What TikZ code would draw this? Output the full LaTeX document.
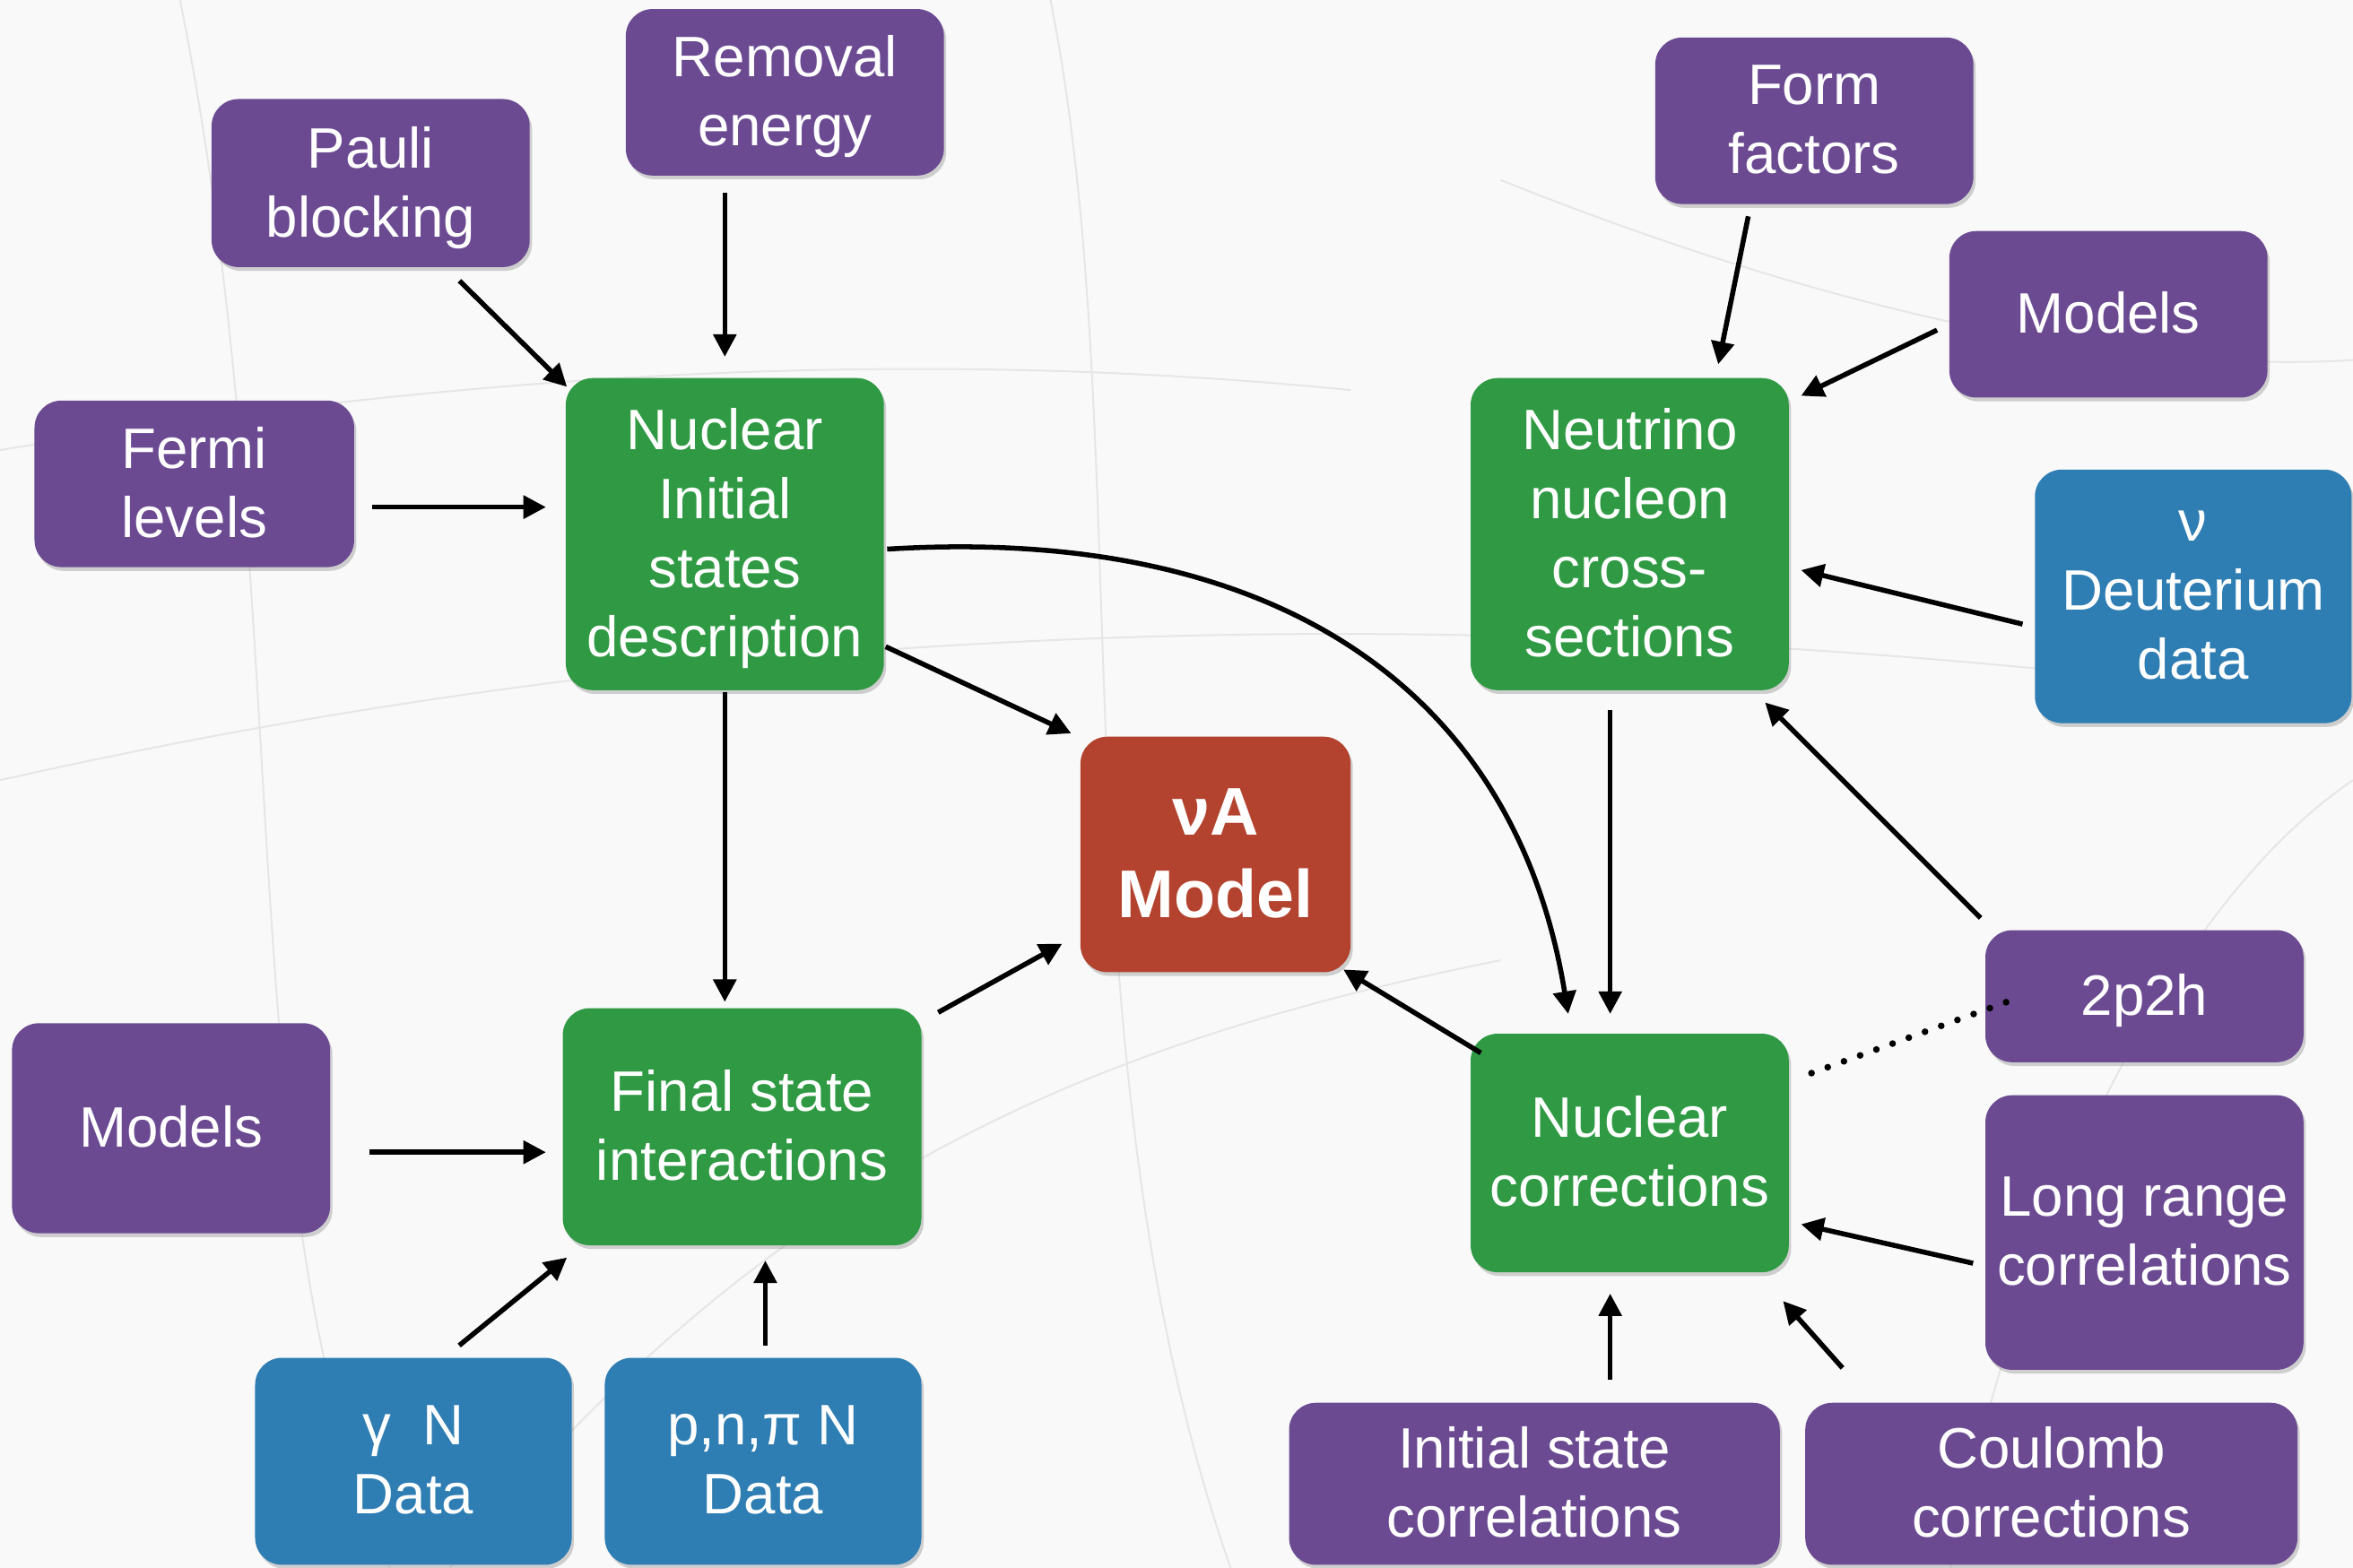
\documentclass[tikz,border=0pt]{standalone}
\usepackage{fontspec}
\setmainfont{Liberation Sans}
\usetikzlibrary{arrows.meta,calc,shadows}
\definecolor{cpurple}{HTML}{6B4A92}
\definecolor{cgreen}{HTML}{2F9A43}
\definecolor{cblue}{HTML}{2E7DB3}
\definecolor{cred}{HTML}{B3432F}
\definecolor{cbg}{HTML}{F9F9F9}
\definecolor{ctrack}{HTML}{E6E6E6}
\begin{document}
\begin{tikzpicture}[x=1pt,y=-1pt,
  box/.style={rounded corners=18pt, text=white, align=center, inner sep=0pt,
    text depth=2pt,
    font=\fontsize{38}{46}\selectfont,
    drop shadow={shadow xshift=1.5pt,shadow yshift=-2.5pt,opacity=0.35}},
  pbox/.style={box,fill=cpurple},
  gbox/.style={box,fill=cgreen},
  bbox/.style={box,fill=cblue},
  rbox/.style={box,fill=cred,font=\fontsize{45}{55}\selectfont\bfseries},
  arr/.style={line width=3.3pt,-{Triangle[length=15pt,width=15pt]}},
  track/.style={ctrack,line width=1.2pt}]
\fill[cbg] (0,0) rectangle (1568,1045);
\useasboundingbox (0,0) rectangle (1568,1045);
% faint background tracks
\draw[track] (0,520) .. controls (400,430) and (900,380) .. (1568,470);
\draw[track] (120,0) .. controls (200,400) and (150,800) .. (260,1045);
\draw[track] (700,0) .. controls (760,300) and (700,700) .. (820,1045);
\draw[track] (1000,120) .. controls (1200,200) and (1400,250) .. (1568,240);
\draw[track] (0,300) .. controls (300,250) and (600,230) .. (900,260);
\draw[track] (1300,1045) .. controls (1350,800) and (1450,600) .. (1568,520);
\draw[track] (300,1045) .. controls (500,800) and (700,700) .. (1000,640);
% nodes
\node[pbox,minimum width=212pt,minimum height=111pt] (removal) at (523,61.5) {Removal\\energy};
\node[pbox,minimum width=212pt,minimum height=112pt] (pauli) at (247,122) {Pauli\\blocking};
\node[pbox,minimum width=213pt,minimum height=111pt] (fermi) at (129.5,322.5) {Fermi\\levels};
\node[gbox,minimum width=212pt,minimum height=208pt] (nis) at (483,356) {Nuclear\\Initial\\states\\description};
\node[pbox,minimum width=212pt,minimum height=111pt] (form) at (1209,80.5) {Form\\factors};
\node[pbox,minimum width=212pt,minimum height=111pt] (modelsR) at (1405,209.5) {Models};
\node[gbox,minimum width=212pt,minimum height=208pt] (nnc) at (1086,356) {Neutrino\\nucleon\\cross-\\sections};
\node[bbox,minimum width=211pt,minimum height=169pt] (deut) at (1461.5,397.5) {ν\\Deuterium\\data};
\node[rbox,minimum width=180pt,minimum height=157pt] (va) at (810,569.5) {νA\\Model};
\node[gbox,minimum width=239pt,minimum height=158pt] (fsi) at (494.5,751) {Final state\\interactions};
\node[pbox,minimum width=212pt,minimum height=140pt] (modelsL) at (114,752) {Models};
\node[bbox,minimum width=211pt,minimum height=138pt] (gn) at (275.5,974) {γ\ \ N\\Data};
\node[bbox,minimum width=211pt,minimum height=138pt] (pnp) at (508.5,974) {p,n,π N\\Data};
\node[gbox,minimum width=212pt,minimum height=159pt] (nc) at (1086,768.5) {Nuclear\\corrections};
\node[pbox,minimum width=212pt,minimum height=88pt] (p2h) at (1429,664) {2p2h};
\node[pbox,minimum width=212pt,minimum height=183pt] (lrc) at (1429,821.5) {Long range\\correlations};
\node[pbox,minimum width=327pt,minimum height=108pt] (isc) at (1022.5,989) {Initial state\\correlations};
\node[pbox,minimum width=328pt,minimum height=108pt] (coul) at (1367,989) {Coulomb\\corrections};
% connectors
\draw[arr] ($(pauli.south east)+(-47,9)$) -- ($(nis.north west)+(1,6)$);
\draw[arr] ($(removal.south)+(-40,11)$) -- ($(nis.north)+(0,-14)$);
\draw[arr] ($(fermi.east)+(12,15.5)$) -- ($(nis.west)+(-13,-18)$);
\draw[arr] ($(nis.south)+(0,1)$) -- ($(fsi.north)+(-11.5,-4)$);
\draw[arr] ($(nis.east)+(1,75)$) -- ($(va.north west)+(-6,-2)$);
\draw[arr] ($(nis.east)+(2,10)$) .. controls ($(nis.east)+(261,-6)$) and ($(nc.north)+(-76,-229)$) .. ($(nc.north)+(-41,-13)$);
\draw[arr] ($(fsi.north east)+(11,3)$) -- ($(va.west)+(-12,59.5)$);
\draw[arr] ($(modelsL.east)+(26,16)$) -- ($(fsi.west)+(-11,17)$);
\draw[arr] ($(gn.north)+(30.5,-8)$) -- ($(fsi.south west)+(3,8)$);
\draw[arr] ($(pnp.north)+(1.5,-8)$) -- ($(fsi.south)+(15.5,10)$);
\draw[arr] ($(form.south)+(-44,8)$) -- ($(nnc.north)+(59,-9)$);
\draw[arr] ($(modelsR.west)+(-8,10.5)$) -- ($(nnc.north east)+(8,12)$);
\draw[arr] ($(deut.west)+(-8,18.5)$) -- ($(nnc.east)+(8,24)$);
\draw[arr] ($(p2h.north west)+(-3,-8)$) -- ($(nnc.south east)+(-16,8)$);
\draw[arr] ($(nnc.south)+(-13,13)$) -- ($(nc.north)+(-13,-13)$);
\draw[arr] ($(nc.north west)+(7,13)$) -- ($(va.south east)+(-5,-2)$);
\draw[line width=4.5pt,line cap=round,dash pattern=on 0pt off 11.5pt] ($(p2h.west)+(14,4)$) -- ($(nc.north east)+(8,29)$);
\draw[arr] ($(lrc.west)+(-8,20.5)$) -- ($(nc.east)+(8,47.5)$);
\draw[arr] ($(isc.north)+(50.5,-15)$) -- ($(nc.south)+(-13,14)$);
\draw[arr] ($(coul.north west)+(25,-23)$) -- ($(nc.south east)+(-4,19)$);
\end{tikzpicture}
\end{document}
